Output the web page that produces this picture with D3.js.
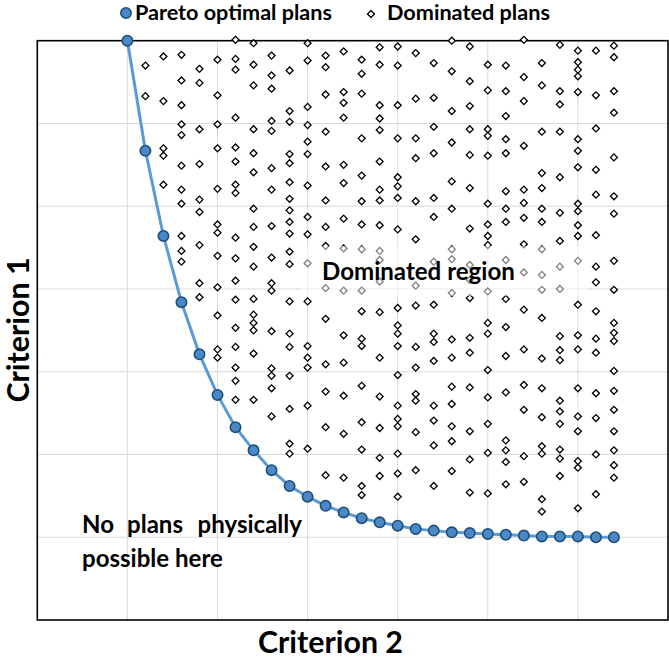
<!DOCTYPE html>
<html><head><meta charset="utf-8">
<script src="https://cdn.jsdelivr.net/npm/d3@7"></script>
<style>
body{margin:0;background:#fff}
svg{display:block}
text{font-family:Lato,"Open Sans",sans-serif;font-weight:700;fill:#000}
</style>
</head><body>
<svg id="chart" width="669" height="660"></svg>
<script>
// ---------- data ----------
const paretoX = [5,6,7,8,9,10,11,12,13,14,15,16,17,18,19,20,21,22,23,24,25,26,27,28,29,30,31,32];
const paretoY = [7.00,5.67,4.64,3.84,3.21,2.72,2.33,2.05,1.81,1.62,1.49,1.38,1.30,1.23,1.18,1.14,1.10,1.08,1.06,1.05,1.04,1.03,1.02,1.01,1.01,1.01,1.00,1.00];

const dominatedColumns = [6,7,8,9,10,11,12,13,14,15,16,17,18,19,20,21,22,23,24,25,26,27,28,29,30,31,32];
const dominatedValues = [
  [6.70,6.33],
  [6.81,6.27,5.70,5.61,5.26],
  [6.83,6.52,6.22,5.99,5.86,5.49,5.20,5.03,4.64,4.46,4.33],
  [6.66,6.49,5.93,5.51,5.08,4.93,4.53,4.07,3.90],
  [6.77,6.34,5.99,5.70,5.21,4.78,4.68,4.40,4.02,3.68,3.27,3.17],
  [7.01,6.78,6.65,6.07,5.71,5.54,5.26,5.16,4.62,4.37,4.10,3.87,3.53,3.30,3.05,2.89,2.66],
  [6.97,6.71,6.46,5.93,5.64,5.41,4.97,4.75,4.51,4.27,3.88,3.69,3.59,3.50,3.22,2.66],
  [6.82,6.58,6.42,6.03,5.91,5.46,5.20,4.76,4.38,4.07,3.98,3.49,3.04,2.95,2.80,2.46],
  [6.64,6.15,6.02,5.63,5.52,5.29,5.09,4.95,4.81,4.67,4.45,4.30,3.85,3.46,3.30,2.95,2.55,2.13,2.01],
  [6.97,6.76,6.20,5.98,5.78,5.63,5.25,4.87,4.66,4.31,3.85,3.31,3.17,3.05,2.59,2.07],
  [6.82,6.68,6.35,5.90,5.48,5.07,4.75,4.52,4.01,3.64,3.09,2.76,2.33,1.75],
  [6.87,6.38,6.25,6.07,5.50,5.28,4.85,4.49,3.98,3.44,3.11,2.71,2.25,1.72],
  [6.77,6.60,6.36,5.82,5.37,5.06,4.78,4.48,3.98,3.73,3.40,3.31,2.83,2.39,2.06,1.62,1.51],
  [6.92,6.71,6.22,6.06,5.92,5.54,5.20,5.07,4.77,4.46,4.35,4.09,3.72,3.17,2.70,2.32,1.96,1.74],
  [6.93,6.70,6.22,5.82,5.35,5.24,5.10,4.72,3.77,3.56,3.46,3.31,2.96,2.59,2.43,2.34,2.01,1.77,1.49],
  [6.85,6.30,5.82,5.58,5.06,4.60,4.04,3.80,3.30,3.05,2.73,2.65,2.27,1.81],
  [6.73,6.31,5.96,5.64,5.10,4.87,4.33,3.81,3.46,3.36,3.13,2.59,2.41,2.11,1.62],
  [7.00,6.63,6.15,5.77,5.30,4.97,4.48,4.36,3.95,3.39,3.17,2.82,2.61,2.34,2.16,1.80],
  [6.93,6.51,6.21,5.93,5.62,5.22,4.73,4.29,4.11,3.89,3.41,3.23,2.81,2.28,1.94,1.54],
  [6.71,6.40,5.93,5.85,5.61,5.03,4.78,4.64,4.53,3.97,3.59,3.46,3.02,2.69,2.37,2.02,1.53],
  [6.70,6.39,6.09,5.81,5.64,5.18,4.97,4.81,4.35,3.88,3.54,3.19,2.75,2.17,2.05,1.91,1.64],
  [7.01,6.56,6.27,5.73,5.20,5.04,4.86,4.54,4.20,3.75,3.27,2.84,2.54,1.98,1.67],
  [6.73,6.46,5.90,5.40,5.22,4.97,4.81,4.48,4.17,3.99,3.65,3.16,2.80,2.45,2.10,2.01,1.46,1.31],
  [6.95,6.39,6.23,5.90,5.35,4.92,4.58,4.27,4.00,3.43,3.26,3.14,2.65,2.52,2.37,2.06,1.95,1.74],
  [6.88,6.74,6.65,6.57,6.38,5.81,5.67,5.47,5.03,4.94,4.77,4.64,4.34,3.81,3.44,3.27,2.80,2.46,2.28,1.92,1.84,1.35],
  [6.88,6.34,5.94,5.44,5.14,4.65,4.27,4.08,3.73,3.40,3.23,2.74,2.44,2.00,1.52],
  [6.94,6.80,6.39,6.13,5.59,5.12,4.91,4.34,3.99,3.59,3.47,3.37,3.01,2.77,2.54,2.28,2.05,1.87,1.72]
];

const xTicks = [0,5,10,15,20,25,30,35];
const yTicks = [0,1,2,3,4,5,6,7];
const legendLabels = ["Pareto optimal plans","Dominated plans"];
const xTitle = "Criterion 2";
const yTitle = "Criterion 1";
const regionLabel = "Dominated region";
const infeasibleLine1 = ["No","plans","physically"];
const infeasibleLine2 = "possible here";

// ---------- layout ----------
const svg = d3.select("#chart");
const plot = {left:37.3, top:40.7, bottom:620, right:668};
const x = d3.scaleLinear().domain([0,35]).range([plot.left, plot.right]);
const y = d3.scaleLinear().domain([0,7]).range([plot.bottom, plot.top]);

const lineBlue = "#5B9BD5";
const markerFill = "#4A89C8";
const markerStroke = "#1F4E79";

// gridlines
const grid = svg.append("g");
grid.selectAll("line.v").data(xTicks.slice(1,-1)).join("line")
  .attr("x1", d=>x(d)).attr("x2", d=>x(d))
  .attr("y1", plot.top).attr("y2", plot.bottom)
  .attr("stroke","#d9d9d9").attr("stroke-width",1);
grid.selectAll("line.h").data(yTicks.slice(1,-1)).join("line")
  .attr("y1", d=>y(d)).attr("y2", d=>y(d))
  .attr("x1", plot.left).attr("x2", plot.right)
  .attr("stroke","#d9d9d9").attr("stroke-width",1);

// plot border
svg.append("rect")
  .attr("x", x(0)).attr("y", y(7))
  .attr("width", x(35)-x(0)).attr("height", y(0)-y(7))
  .attr("fill","none").attr("stroke","#000").attr("stroke-width",1.6);

// dominated diamonds
const dominated = [];
dominatedColumns.forEach((c,i)=>dominatedValues[i].forEach(v=>dominated.push([c,v])));
const diamond = d3.symbol().type(d3.symbolSquare).size(24);
svg.append("g").selectAll("path").data(dominated).join("path")
  .attr("d", diamond)
  .attr("transform", d=>`translate(${x(d[0])},${y(d[1])}) rotate(45)`)
  .attr("fill","#fff").attr("stroke","#000").attr("stroke-width",1.3);

// pareto line
const pareto = paretoX.map((d,i)=>[d,paretoY[i]]);
svg.append("path").datum(pareto)
  .attr("d", d3.line().x(d=>x(d[0])).y(d=>y(d[1])))
  .attr("fill","none").attr("stroke",lineBlue).attr("stroke-width",3);
svg.append("g").selectAll("circle").data(pareto).join("circle")
  .attr("cx", d=>x(d[0])).attr("cy", d=>y(d[1])).attr("r",5.2)
  .attr("fill",markerFill).attr("stroke",markerStroke).attr("stroke-width",1.6);

// text helpers
function fit(t, target){
  t.attr("font-size",20);
  const w = t.node().getComputedTextLength();
  t.attr("font-size", (20*target/w).toFixed(2));
  return t;
}

// "Dominated region" box (semi-transparent)
svg.append("rect").attr("x",300).attr("y",246).attr("width",288).attr("height",50)
  .attr("fill","#fff").attr("fill-opacity",0.5);
fit(svg.append("text").attr("x",322).attr("y",280).text(regionLabel), 193);

// infeasible text
const l2 = fit(svg.append("text").attr("x",82).attr("y",567).text(infeasibleLine2), 141);
const fs = l2.attr("font-size");
svg.append("text").attr("x",82).attr("y",533).attr("font-size",fs).text(infeasibleLine1[0]);
svg.append("text").attr("x",127).attr("y",533).attr("font-size",fs).text(infeasibleLine1[1]);
svg.append("text").attr("x",302).attr("y",533).attr("font-size",fs).attr("text-anchor","end").text(infeasibleLine1[2]);

// axis titles
fit(svg.append("text").attr("x",258).attr("y",653).text(xTitle), 145);
const yt = svg.append("text").attr("text-anchor","middle")
  .attr("transform","translate(29,330) rotate(-90)").text(yTitle);
fit(yt, 145);

// legend
const lg = svg.append("g");
lg.append("circle").attr("cx",126).attr("cy",13).attr("r",5.2)
  .attr("fill",markerFill).attr("stroke",markerStroke).attr("stroke-width",1.6);
fit(lg.append("text").attr("x",135).attr("y",20).text(legendLabels[0]), 197);
lg.append("path").attr("d",diamond).attr("transform","translate(371,14) rotate(45)")
  .attr("fill","#fff").attr("stroke","#000").attr("stroke-width",1.3);
fit(lg.append("text").attr("x",387).attr("y",20).text(legendLabels[1]), 163);
</script>
</body></html>
